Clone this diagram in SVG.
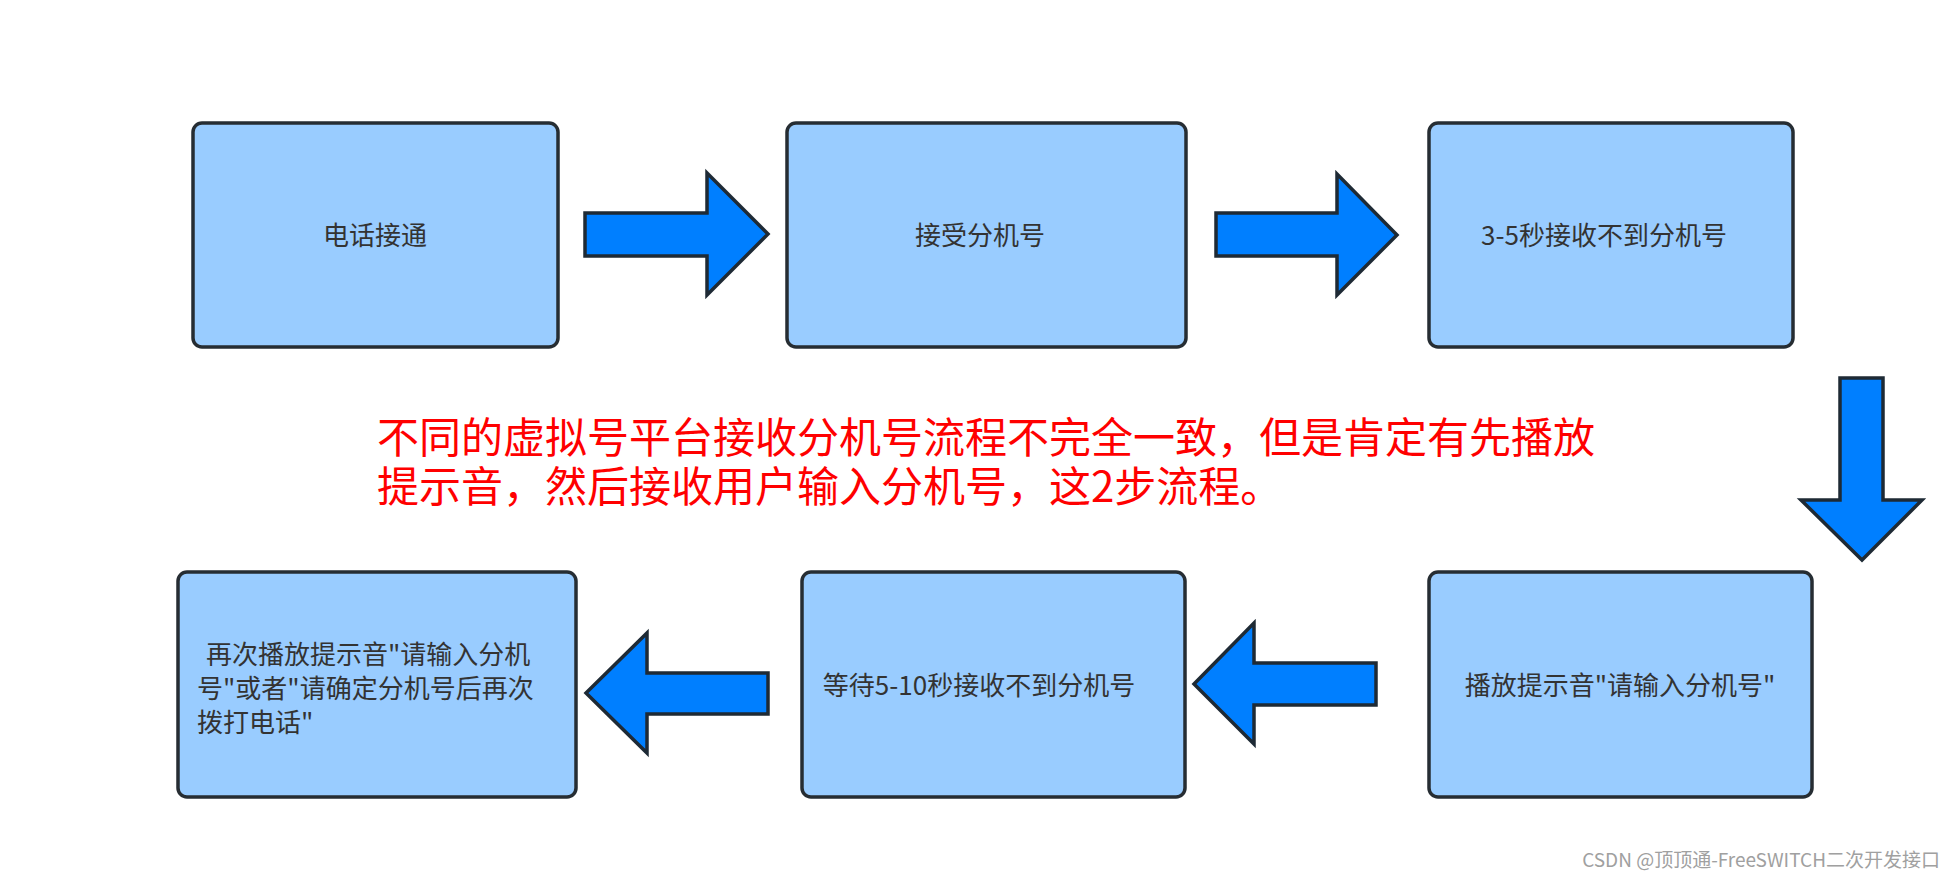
<svg xmlns="http://www.w3.org/2000/svg" width="1953" height="879" viewBox="0 0 1953 879">
<style>
.box{fill:#99ccff;stroke:#262d33;stroke-width:3.5}
.arr{fill:#007fff;stroke:#1e2a35;stroke-width:3.5;stroke-linejoin:miter}
.lbl{font-family:"Noto Sans CJK SC","Noto Sans",sans-serif;font-size:26px;fill:#333333}
.note{font-family:"Noto Sans CJK SC","Noto Sans",sans-serif;font-size:42px;fill:#ff0000}
.wm{font-family:"Noto Sans CJK SC","Noto Sans",sans-serif;font-size:19px;fill:#a0a0a0}
</style>
<rect width="1953" height="879" fill="#ffffff"/>
<g id="connectors">
<polygon class="arr" points="585,213 707,213 707,173 768,234 707,295 707,256 585,256"/>
<polygon class="arr" points="1216,213 1337,213 1337,174 1397,235 1337,295 1337,256 1216,256"/>
<polygon class="arr" points="1840,378 1883,378 1883,500 1922,500 1862,560 1801,500 1840,500"/>
<polygon class="arr" points="1376,663 1254,663 1254,623 1194,684 1254,744 1254,705 1376,705"/>
<polygon class="arr" points="768,673 647,673 647,633 586,693 647,753 647,714 768,714"/>
</g>
<g id="n1"><rect class="box" x="193" y="123" width="365" height="224" rx="9"/><text class="lbl" x="375" y="245" text-anchor="middle">电话接通</text></g>
<g id="n2"><rect class="box" x="787" y="123" width="399" height="224" rx="9"/><text class="lbl" x="980" y="245" text-anchor="middle">接受分机号</text></g>
<g id="n3"><rect class="box" x="1429" y="123" width="364" height="224" rx="9"/><text class="lbl" x="1604" y="245" text-anchor="middle">3-5秒接收不到分机号</text></g>
<g id="n4"><rect class="box" x="1429" y="572" width="383" height="225" rx="9"/><text class="lbl" x="1620" y="695" text-anchor="middle">播放提示音"请输入分机号"</text></g>
<g id="n5"><rect class="box" x="802" y="572" width="383" height="225" rx="9"/><text class="lbl" x="979" y="695" text-anchor="middle">等待5-10秒接收不到分机号</text></g>
<g id="n6"><rect class="box" x="178" y="572" width="398" height="225" rx="9"/>
<text class="lbl"><tspan x="206" y="664">再次播放提示音"请输入分机</tspan><tspan x="197" y="698">号"或者"请确定分机号后再次</tspan><tspan x="197" y="732">拨打电话"</tspan></text></g>
<g id="note">
<text class="note"><tspan x="377" y="453">不同的虚拟号平台接收分机号流程不完全一致，但是肯定有先播放</tspan><tspan x="377" y="502">提示音，然后接收用户输入分机号，这2步流程。</tspan></text>
</g>
<text class="wm" x="1940" y="867" text-anchor="end">CSDN @顶顶通-FreeSWITCH二次开发接口</text>
</svg>
